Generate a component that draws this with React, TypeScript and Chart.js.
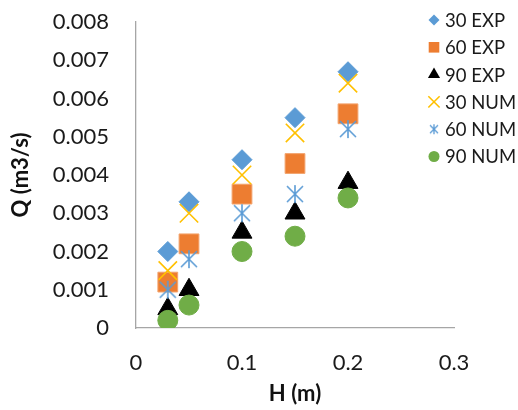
import React, { useEffect, useRef } from 'react';
import { Chart, registerables } from 'chart.js';

Chart.register(...registerables);

const hValues = [0.03, 0.05, 0.1, 0.15, 0.2];
const exp30 = [0.002, 0.0033, 0.0044, 0.0055, 0.0067];
const exp60 = [0.0012, 0.0022, 0.0035, 0.0043, 0.0056];
const exp90 = [0.0005, 0.001, 0.0025, 0.003, 0.0038];
const num30 = [0.0015, 0.003, 0.004, 0.0051, 0.0064];
const num60 = [0.001, 0.0018, 0.003, 0.0035, 0.0052];
const num90 = [0.0002, 0.0006, 0.002, 0.0024, 0.0034];
const seriesNames = ['30 EXP', '60 EXP', '90 EXP', '30 NUM', '60 NUM', '90 NUM'];
const xTickLabels = ['0', '0.1', '0.2', '0.3'];
const yTickLabels = ['0', '0.001', '0.002', '0.003', '0.004', '0.005', '0.006', '0.007', '0.008'];

const FONT = 'Lato, "Open Sans", sans-serif';

function makeAsterisk(size: number, color: string, lw: number) {
  const c = document.createElement('canvas');
  c.width = size;
  c.height = size;
  const ctx = c.getContext('2d')!;
  ctx.strokeStyle = color;
  ctx.lineWidth = lw;
  const p = 1;
  const m = size / 2;
  ctx.beginPath();
  ctx.moveTo(m, p);
  ctx.lineTo(m, size - p);
  ctx.moveTo(p + 1, p + 1);
  ctx.lineTo(size - p - 1, size - p - 1);
  ctx.moveTo(size - p - 1, p + 1);
  ctx.lineTo(p + 1, size - p - 1);
  ctx.stroke();
  return c;
}

function drawPointShape(ctx: CanvasRenderingContext2D, style: string, r: number, x: number, y: number) {
  ctx.beginPath();
  if (style === 'rectRot') {
    ctx.moveTo(x, y - r);
    ctx.lineTo(x + r, y);
    ctx.lineTo(x, y + r);
    ctx.lineTo(x - r, y);
    ctx.closePath();
    ctx.fill();
  } else if (style === 'rect') {
    const s = r * Math.SQRT1_2;
    ctx.rect(x - s, y - s, 2 * s, 2 * s);
    ctx.fill();
  } else if (style === 'triangle') {
    ctx.moveTo(x, y - r);
    ctx.lineTo(x + r * 0.866, y + r * 0.5);
    ctx.lineTo(x - r * 0.866, y + r * 0.5);
    ctx.closePath();
    ctx.fill();
  } else if (style === 'crossRot') {
    const s = r * Math.SQRT1_2;
    ctx.moveTo(x - s, y - s);
    ctx.lineTo(x + s, y + s);
    ctx.moveTo(x + s, y - s);
    ctx.lineTo(x - s, y + s);
    ctx.stroke();
  } else if (style === 'circle') {
    ctx.arc(x, y, r, 0, Math.PI * 2);
    ctx.fill();
  }
}

export default function App() {
  const ref = useRef<HTMLCanvasElement | null>(null);

  useEffect(() => {
    if (!ref.current) return;
    const starBig = makeAsterisk(20, '#5B9BD5', 1.6);
    const starSmall = makeAsterisk(12, '#5B9BD5', 1.3);

    const toPts = (arr: number[]) => arr.map((v, i) => ({ x: hValues[i], y: v }));

    const styles: any[] = [
      { pointStyle: 'rectRot', pointRadius: 10, backgroundColor: '#5B9BD5', borderColor: '#5B9BD5', pointBorderWidth: 1, legendR: 5.5 },
      { pointStyle: 'rect', pointRadius: 14, backgroundColor: '#ED7D31', borderColor: '#F3A46E', pointBorderWidth: 1, legendR: 7.5 },
      { pointStyle: 'triangle', pointRadius: 11.5, backgroundColor: '#000000', borderColor: '#000000', pointBorderWidth: 1, legendR: 7 },
      { pointStyle: 'crossRot', pointRadius: 13, backgroundColor: '#FFC000', borderColor: '#FFC000', pointBorderWidth: 1.6, legendR: 8 },
      { pointStyle: starBig, pointRadius: 10, backgroundColor: '#5B9BD5', borderColor: '#5B9BD5', pointBorderWidth: 1, legendR: 6, legendImg: starSmall },
      { pointStyle: 'circle', pointRadius: 10, backgroundColor: '#70AD47', borderColor: '#70AD47', pointBorderWidth: 1, legendR: 5.5 },
    ];
    const allData = [exp30, exp60, exp90, num30, num60, num90];

    const legendPlugin = {
      id: 'customLegend',
      afterDraw(chart: any) {
        const ctx = chart.ctx;
        ctx.save();
        styles.forEach((s, i) => {
          const y = 20 + i * 27.3;
          const x = 434;
          if (s.legendImg) {
            ctx.drawImage(s.legendImg, x - s.legendImg.width / 2, y - s.legendImg.height / 2);
          } else {
            ctx.fillStyle = s.backgroundColor;
            ctx.strokeStyle = s.borderColor;
            ctx.lineWidth = s.pointBorderWidth;
            drawPointShape(ctx, s.pointStyle, s.legendR, x, y);
          }
          ctx.fillStyle = '#1a1a1a';
          ctx.font = '18.5px ' + FONT;
          ctx.textAlign = 'left';
          ctx.textBaseline = 'middle';
          ctx.fillText(seriesNames[i], 445, y + 1);
        });
        ctx.restore();
      },
    };

    const chart = new Chart(ref.current, {
      type: 'scatter',
      data: {
        datasets: allData.map((d, i) => ({
          label: seriesNames[i],
          data: toPts(d),
          pointStyle: styles[i].pointStyle,
          pointRadius: styles[i].pointRadius,
          pointHoverRadius: styles[i].pointRadius,
          backgroundColor: styles[i].backgroundColor,
          borderColor: styles[i].borderColor,
          pointBorderWidth: styles[i].pointBorderWidth,
          order: -i,
        })),
      },
      options: {
        animation: false,
        responsive: false,
        devicePixelRatio: 1,
        layout: { padding: { left: 0, right: 64, top: 22, bottom: 0 } },
        plugins: { legend: { display: false }, tooltip: { enabled: false } },
        scales: {
          x: {
            type: 'linear',
            min: 0,
            max: 0.3,
            afterFit: (axis: any) => { axis.height = 82; },
            grid: { display: false, drawTicks: false },
            border: { display: true, color: '#a6a6a6', width: 1.3 },
            ticks: {
              stepSize: 0.1,
              padding: 22,
              color: '#1a1a1a',
              font: { family: FONT, size: 22 },
              callback: (_v: any, i: number) => xTickLabels[i],
            },
            title: {
              display: true,
              text: 'H (m)',
              color: '#111',
              font: { family: FONT, size: 22, weight: 'bold' },
              padding: { top: 0, bottom: 3 },
            },
          },
          y: {
            type: 'linear',
            min: 0,
            max: 0.008,
            afterFit: (axis: any) => {
              axis.width = 136;
              axis.paddingTop = 0;
              axis.paddingBottom = 0;
            },
            grid: { display: false, drawTicks: false },
            border: { display: true, color: '#a6a6a6', width: 1.3 },
            ticks: {
              stepSize: 0.001,
              padding: 27,
              color: '#1a1a1a',
              font: { family: FONT, size: 22 },
              callback: (_v: any, i: number) => yTickLabels[i],
            },
            title: {
              display: true,
              text: 'Q (m3/s)',
              color: '#111',
              font: { family: FONT, size: 22, weight: 'bold' },
              padding: { top: 8, bottom: 0 },
            },
          },
        },
      },
      plugins: [legendPlugin],
    });
    return () => chart.destroy();
  }, []);

  return (
    <div style={{ position: 'absolute', left: 0, top: 0, width: 518, height: 410, background: '#fff' }}>
      <canvas ref={ref} width={518} height={410} style={{ width: 518, height: 410, display: 'block' }} />
    </div>
  );
}
